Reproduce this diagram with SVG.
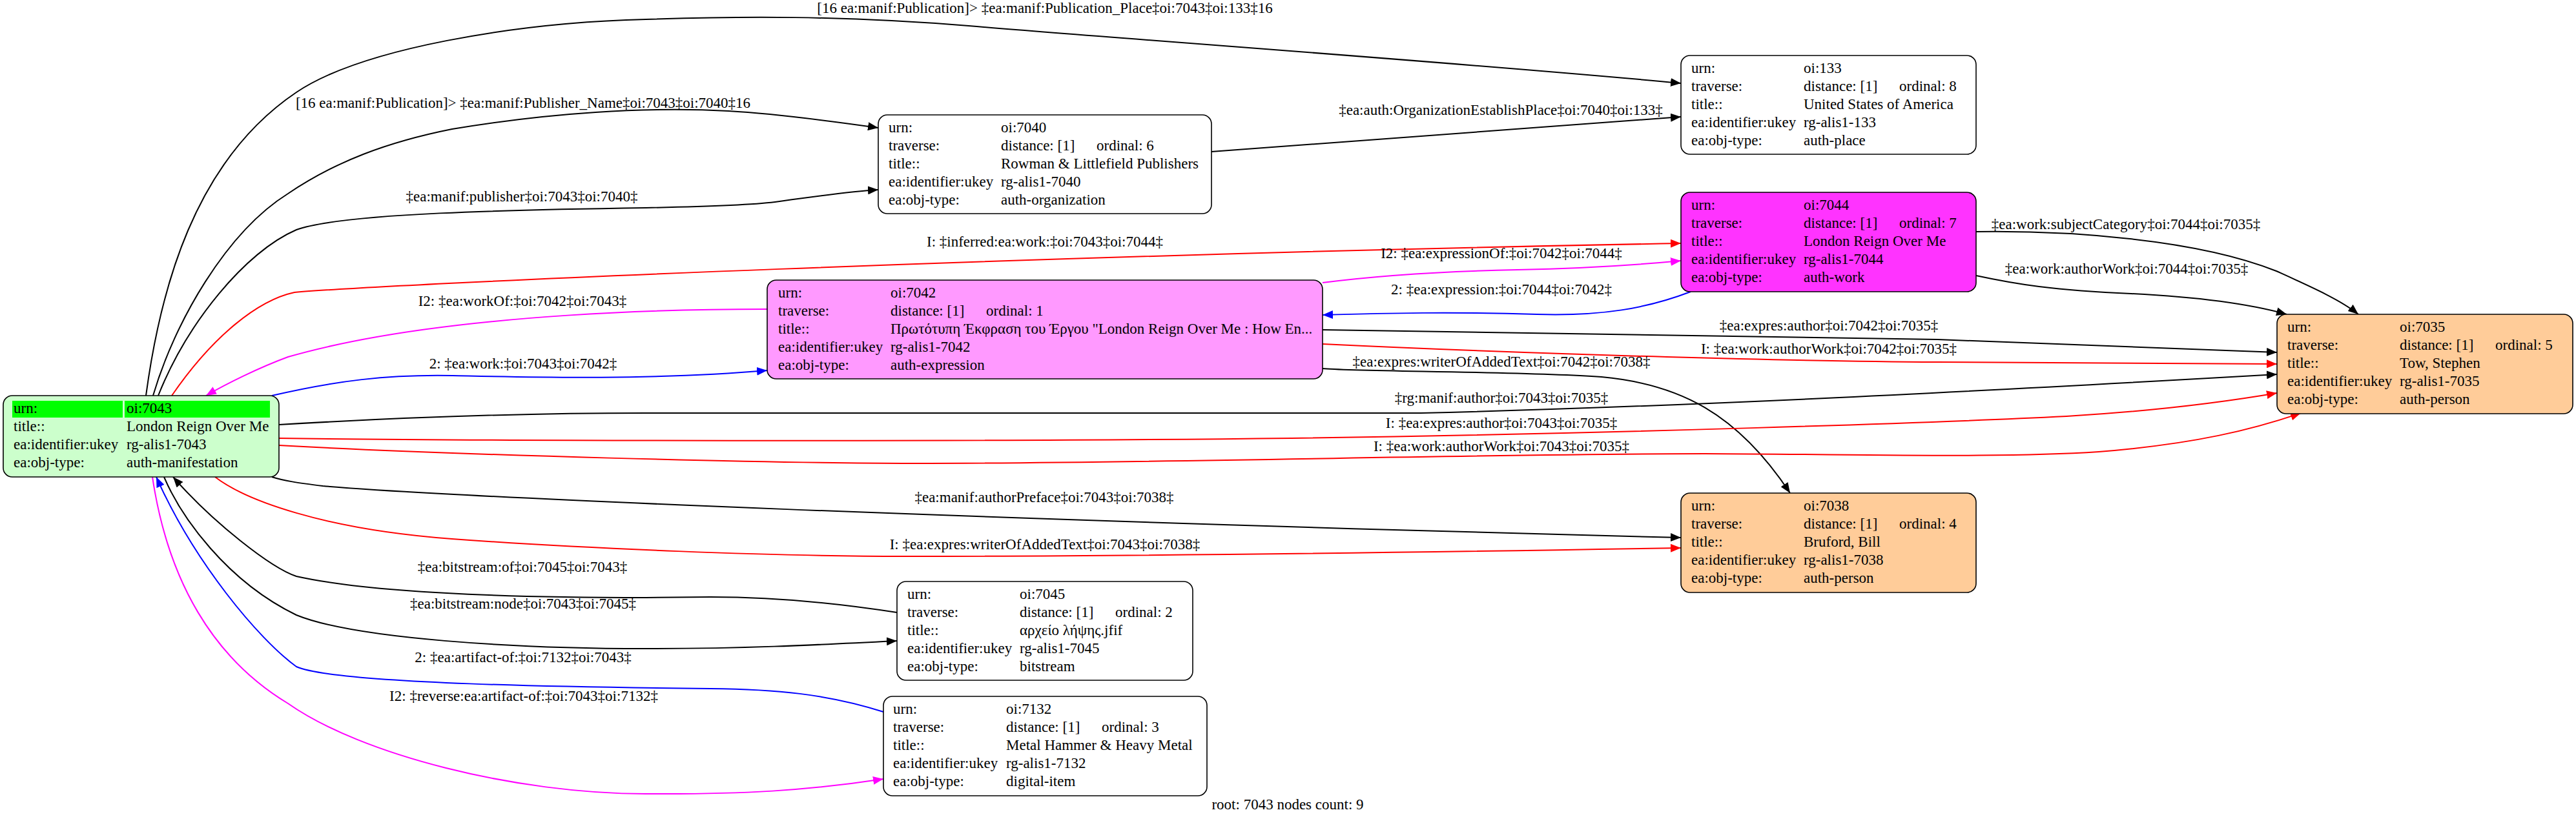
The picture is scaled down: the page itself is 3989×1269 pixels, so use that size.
<svg xmlns="http://www.w3.org/2000/svg" width="3989" height="1269" viewBox="0 0 3989 1269">
<style>
text{font-family:"Liberation Serif","Times New Roman",serif;font-size:23px;fill:#000}
.l{text-anchor:middle}
.box{stroke:#000;stroke-width:1.6}
.e{fill:none;stroke-width:2}
.k{stroke:#000}.r{stroke:#ff0000}.b{stroke:#0000ff}.m{stroke:#ff00ff}
</style>
<defs>
<marker id="ak" markerUnits="userSpaceOnUse" markerWidth="17" markerHeight="13" refX="16" refY="6.5" orient="auto"><path d="M0,0 L16,6.5 L0,13 z" fill="#000"/></marker>
<marker id="ar" markerUnits="userSpaceOnUse" markerWidth="17" markerHeight="13" refX="16" refY="6.5" orient="auto"><path d="M0,0 L16,6.5 L0,13 z" fill="#ff0000"/></marker>
<marker id="abl" markerUnits="userSpaceOnUse" markerWidth="17" markerHeight="13" refX="16" refY="6.5" orient="auto"><path d="M0,0 L16,6.5 L0,13 z" fill="#0000ff"/></marker>
<marker id="am" markerUnits="userSpaceOnUse" markerWidth="17" markerHeight="13" refX="16" refY="6.5" orient="auto"><path d="M0,0 L16,6.5 L0,13 z" fill="#ff00ff"/></marker>
</defs>
<rect width="3989" height="1269" fill="#fff"/>
<g id="connectors">
<path class="e k" marker-end="url(#ak)" d="M226,613 C248,450 300,250 459,143 C560,75 800,35 1000,30 C1150,25 1300,24 1500,40 C1800,65 2300,100 2603,129"/>
<path class="e k" marker-end="url(#ak)" d="M237,613 C270,500 350,360 446,300 C520,250 600,220 700,200 C850,175 1000,165 1128,172 C1200,176 1290,188 1360,198"/>
<path class="e k" marker-end="url(#ak)" d="M245,613 C290,500 380,390 459,356 C530,330 800,325 1000,322 C1100,320 1160,318 1200,313 C1260,305 1310,297 1360,294"/>
<path class="e k" marker-end="url(#ak)" d="M1876,235 L2603,181"/>
<path class="e r" marker-end="url(#ar)" d="M266,613 C330,520 400,465 456,453 C600,440 1600,395 2603,377"/>
<path class="e m" marker-end="url(#am)" d="M1188,479 C1100,479 700,480 446,553 C400,570 350,595 319,613"/>
<path class="e b" marker-end="url(#abl)" d="M421,613 C520,590 600,580 701,582 C800,584 1000,590 1188,574"/>
<path class="e b" marker-end="url(#abl)" d="M2618,452 C2550,478 2480,490 2380,487 C2250,483 2150,485 2048,488"/>
<path class="e m" marker-end="url(#am)" d="M2048,438 C2150,425 2250,420 2350,418 C2450,416 2520,412 2603,404"/>
<path class="e k" marker-end="url(#ak)" d="M3060,359 C3200,357 3400,370 3525,420 C3580,445 3625,465 3652,487"/>
<path class="e k" marker-end="url(#ak)" d="M3060,427 C3120,440 3180,450 3300,455 C3400,460 3480,470 3541,487"/>
<path class="e k" marker-end="url(#ak)" d="M2048,511 C2500,517 2900,523 3000,526 C3200,533 3400,541 3526,546"/>
<path class="e r" marker-end="url(#ar)" d="M2048,533 C2400,550 2800,560 3000,561 C3200,562 3400,563 3526,564"/>
<path class="e k" marker-end="url(#ak)" d="M2048,571 C2100,576 2350,575 2480,584 C2600,595 2690,640 2772,764"/>
<path class="e k" marker-end="url(#ak)" d="M432,658 C600,648 800,640 1000,640 C1500,638 2000,642 2200,640 C2600,630 3000,610 3526,580"/>
<path class="e r" marker-end="url(#ar)" d="M432,679 C700,683 1500,685 2000,679 C2500,672 3000,655 3200,645 C3350,636 3450,622 3526,609"/>
<path class="e r" marker-end="url(#ar)" d="M432,690 C700,705 1200,718 1414,718 C1800,718 2300,703 2640,703 C2900,704 3100,710 3250,700 C3400,688 3490,665 3563,640"/>
<path class="e k" marker-end="url(#ak)" d="M421,739 C440,745 460,748 500,753 C700,770 1500,805 2603,833"/>
<path class="e r" marker-end="url(#ar)" d="M333,739 C380,775 500,820 700,835 C900,850 1200,862 1400,862 C1800,862 2200,856 2603,849"/>
<path class="e k" marker-end="url(#ak)" d="M1389,949 C1300,935 1200,925 1100,925 L1000,926 C800,926 580,920 459,893 C420,880 330,810 268,739"/>
<path class="e k" marker-end="url(#ak)" d="M254,739 C280,800 350,900 459,953 C550,990 800,1005 1000,1005 C1150,1005 1250,1000 1389,993"/>
<path class="e b" marker-end="url(#abl)" d="M1368,1103 C1280,1075 1200,1068 1100,1067 C900,1065 520,1060 459,1033 C400,990 300,870 242,739"/>
<path class="e m" marker-end="url(#am)" d="M236,739 C260,900 330,1020 446,1090 C560,1170 800,1230 1000,1230 C1150,1231 1250,1225 1368,1207"/>
<g id="edge-labels">
<text class="l" x="1618" y="20">[16 ea:manif:Publication]&gt; ‡ea:manif:Publication_Place‡oi:7043‡oi:133‡16</text>
<text class="l" x="810" y="167">[16 ea:manif:Publication]&gt; ‡ea:manif:Publisher_Name‡oi:7043‡oi:7040‡16</text>
<text class="l" x="808" y="312">‡ea:manif:publisher‡oi:7043‡oi:7040‡</text>
<text class="l" x="2324" y="178">‡ea:auth:OrganizationEstablishPlace‡oi:7040‡oi:133‡</text>
<text class="l" x="1618" y="382">I: ‡inferred:ea:work:‡oi:7043‡oi:7044‡</text>
<text class="l" x="809" y="474">I2: ‡ea:workOf:‡oi:7042‡oi:7043‡</text>
<text class="l" x="810" y="571">2: ‡ea:work:‡oi:7043‡oi:7042‡</text>
<text class="l" x="2325" y="456">2: ‡ea:expression:‡oi:7044‡oi:7042‡</text>
<text class="l" x="2325" y="400">I2: ‡ea:expressionOf:‡oi:7042‡oi:7044‡</text>
<text class="l" x="3292" y="355">‡ea:work:subjectCategory‡oi:7044‡oi:7035‡</text>
<text class="l" x="3293" y="424">‡ea:work:authorWork‡oi:7044‡oi:7035‡</text>
<text class="l" x="2832" y="512">‡ea:expres:author‡oi:7042‡oi:7035‡</text>
<text class="l" x="2832" y="548">I: ‡ea:work:authorWork‡oi:7042‡oi:7035‡</text>
<text class="l" x="2325" y="568">‡ea:expres:writerOfAddedText‡oi:7042‡oi:7038‡</text>
<text class="l" x="2325" y="624">‡rg:manif:author‡oi:7043‡oi:7035‡</text>
<text class="l" x="2325" y="663">I: ‡ea:expres:author‡oi:7043‡oi:7035‡</text>
<text class="l" x="2325" y="699">I: ‡ea:work:authorWork‡oi:7043‡oi:7035‡</text>
<text class="l" x="1617" y="778">‡ea:manif:authorPreface‡oi:7043‡oi:7038‡</text>
<text class="l" x="1618" y="851">I: ‡ea:expres:writerOfAddedText‡oi:7043‡oi:7038‡</text>
<text class="l" x="809" y="886">‡ea:bitstream:of‡oi:7045‡oi:7043‡</text>
<text class="l" x="810" y="943">‡ea:bitstream:node‡oi:7043‡oi:7045‡</text>
<text class="l" x="810" y="1026">2: ‡ea:artifact-of:‡oi:7132‡oi:7043‡</text>
<text class="l" x="811" y="1086">I2: ‡reverse:ea:artifact-of:‡oi:7043‡oi:7132‡</text>
</g>
</g>
<g id="n7043">
<rect class="box" x="5" y="613" width="427" height="126" rx="14" fill="#ccffcc"/>
<rect x="19" y="621" width="171" height="26" fill="#00ff00"/>
<rect x="193" y="621" width="225" height="26" fill="#00ff00"/>
<text x="21" y="640">urn:</text><text x="196" y="640">oi:7043</text>
<text x="21" y="668">title::</text><text x="196" y="668">London Reign Over Me</text>
<text x="21" y="696">ea:identifier:ukey</text><text x="196" y="696">rg-alis1-7043</text>
<text x="21" y="724">ea:obj-type:</text><text x="196" y="724">auth-manifestation</text>
</g>
<g id="n7040">
<rect class="box" x="1360" y="178" width="516" height="153" rx="14" fill="#fff"/>
<text x="1376" y="205">urn:</text><text x="1550" y="205">oi:7040</text>
<text x="1376" y="233">traverse:</text><text x="1550" y="233">distance: [1]</text><text x="1698" y="233">ordinal: 6</text>
<text x="1376" y="261">title::</text><text x="1550" y="261">Rowman &amp; Littlefield Publishers</text>
<text x="1376" y="289">ea:identifier:ukey</text><text x="1550" y="289">rg-alis1-7040</text>
<text x="1376" y="317">ea:obj-type:</text><text x="1550" y="317">auth-organization</text>
</g>
<g id="n133">
<rect class="box" x="2603" y="86" width="457" height="153" rx="14" fill="#fff"/>
<text x="2619" y="113">urn:</text><text x="2793" y="113">oi:133</text>
<text x="2619" y="141">traverse:</text><text x="2793" y="141">distance: [1]</text><text x="2941" y="141">ordinal: 8</text>
<text x="2619" y="169">title::</text><text x="2793" y="169">United States of America</text>
<text x="2619" y="197">ea:identifier:ukey</text><text x="2793" y="197">rg-alis1-133</text>
<text x="2619" y="225">ea:obj-type:</text><text x="2793" y="225">auth-place</text>
</g>
<g id="n7044">
<rect class="box" x="2603" y="298" width="457" height="154" rx="14" fill="#ff33ff"/>
<text x="2619" y="325">urn:</text><text x="2793" y="325">oi:7044</text>
<text x="2619" y="353">traverse:</text><text x="2793" y="353">distance: [1]</text><text x="2941" y="353">ordinal: 7</text>
<text x="2619" y="381">title::</text><text x="2793" y="381">London Reign Over Me</text>
<text x="2619" y="409">ea:identifier:ukey</text><text x="2793" y="409">rg-alis1-7044</text>
<text x="2619" y="437">ea:obj-type:</text><text x="2793" y="437">auth-work</text>
</g>
<g id="n7042">
<rect class="box" x="1188" y="434" width="860" height="153" rx="14" fill="#ff99ff"/>
<text x="1205" y="461">urn:</text><text x="1379" y="461">oi:7042</text>
<text x="1205" y="489">traverse:</text><text x="1379" y="489">distance: [1]</text><text x="1527" y="489">ordinal: 1</text>
<text x="1205" y="517">title::</text><text x="1379" y="517">Πρωτότυπη Έκφραση του Έργου "London Reign Over Me : How En...</text>
<text x="1205" y="545">ea:identifier:ukey</text><text x="1379" y="545">rg-alis1-7042</text>
<text x="1205" y="573">ea:obj-type:</text><text x="1379" y="573">auth-expression</text>
</g>
<g id="n7035">
<rect class="box" x="3526" y="487" width="458" height="154" rx="14" fill="#ffcc99"/>
<text x="3542" y="514">urn:</text><text x="3716" y="514">oi:7035</text>
<text x="3542" y="542">traverse:</text><text x="3716" y="542">distance: [1]</text><text x="3864" y="542">ordinal: 5</text>
<text x="3542" y="570">title::</text><text x="3716" y="570">Tow, Stephen</text>
<text x="3542" y="598">ea:identifier:ukey</text><text x="3716" y="598">rg-alis1-7035</text>
<text x="3542" y="626">ea:obj-type:</text><text x="3716" y="626">auth-person</text>
</g>
<g id="n7038">
<rect class="box" x="2603" y="764" width="457" height="154" rx="14" fill="#ffcc99"/>
<text x="2619" y="791">urn:</text><text x="2793" y="791">oi:7038</text>
<text x="2619" y="819">traverse:</text><text x="2793" y="819">distance: [1]</text><text x="2941" y="819">ordinal: 4</text>
<text x="2619" y="847">title::</text><text x="2793" y="847">Bruford, Bill</text>
<text x="2619" y="875">ea:identifier:ukey</text><text x="2793" y="875">rg-alis1-7038</text>
<text x="2619" y="903">ea:obj-type:</text><text x="2793" y="903">auth-person</text>
</g>
<g id="n7045">
<rect class="box" x="1389" y="901" width="458" height="153" rx="14" fill="#fff"/>
<text x="1405" y="928">urn:</text><text x="1579" y="928">oi:7045</text>
<text x="1405" y="956">traverse:</text><text x="1579" y="956">distance: [1]</text><text x="1727" y="956">ordinal: 2</text>
<text x="1405" y="984">title::</text><text x="1579" y="984">αρχείο λήψης.jfif</text>
<text x="1405" y="1012">ea:identifier:ukey</text><text x="1579" y="1012">rg-alis1-7045</text>
<text x="1405" y="1040">ea:obj-type:</text><text x="1579" y="1040">bitstream</text>
</g>
<g id="n7132">
<rect class="box" x="1368" y="1079" width="501" height="154" rx="14" fill="#fff"/>
<text x="1383" y="1106">urn:</text><text x="1558" y="1106">oi:7132</text>
<text x="1383" y="1134">traverse:</text><text x="1558" y="1134">distance: [1]</text><text x="1706" y="1134">ordinal: 3</text>
<text x="1383" y="1162">title::</text><text x="1558" y="1162">Metal Hammer &amp; Heavy Metal</text>
<text x="1383" y="1190">ea:identifier:ukey</text><text x="1558" y="1190">rg-alis1-7132</text>
<text x="1383" y="1218">ea:obj-type:</text><text x="1558" y="1218">digital-item</text>
</g>
<text class="l" x="1994" y="1254">root: 7043 nodes count: 9</text>
</svg>
